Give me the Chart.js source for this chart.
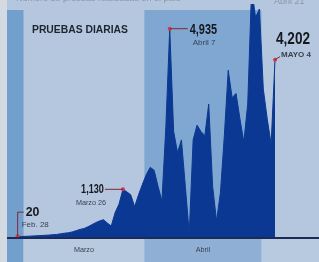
<!DOCTYPE html>
<html lang="es">
<head>
  <meta charset="UTF-8">
  <title>Pruebas diarias</title>
  <style>
    body { margin: 0; background: #b4c7de; }
    #grafica { display: block; }
  </style>
  <script src="https://cdn.jsdelivr.net/npm/chart.js"></script>
</head>
<body>

<canvas id="grafica" width="319" height="262"></canvas>

<script>
  // pruebas diarias, un valor por dia desde Feb. 28 (2020) hasta Mayo 4
  const pruebas = [
    20, 10, 15, 20, 25, 30, 35, 40, 45, 55,
    60, 75, 90, 100, 120, 150, 180, 200, 240, 290,
    340, 380, 410, 330, 260, 580, 780, 1130, 1070, 1000,
    720, 1000, 1250, 1480, 1650, 1580, 1200, 850, 2600, 4935,
    2500, 2000, 2300, 1200, 80, 2300, 2650, 2500, 2400, 3150,
    1200, 380, 1050, 2400, 3950, 3300, 3400, 2800, 2250, 3150,
    5900, 5200, 5400, 3500, 2800, 2200, 4202
  ];

  // meses del eje (indice del primer y ultimo dia)
  const meses = ['Marzo', 'Abril'];
  const mesInicio = [2, 33];
  const mesFin = [32, 62];

  // puntos destacados
  const destacadoIdx = [0, 27, 39, 66];
  const destacadoValor = ['20', '1,130', '4,935', '4,202'];
  const destacadoFecha = ['Feb. 28', 'Marzo 26', 'Abril 7', 'MAYO 4'];

  const titulo = 'PRUEBAS DIARIAS';
  const FUENTE = "'Liberation Sans', Arial, sans-serif";

  // texto comprimido a lo ancho (la fuente original es condensada)
  function texto(c, s, x, y, align, sx) {
    c.save();
    c.translate(x, y);
    c.scale(sx, 1);
    c.textAlign = align;
    c.fillText(s, 0, 0);
    c.restore();
  }

  const fondo = {
    id: 'fondo',
    beforeDraw(chart) {
      const c = chart.ctx, a = chart.chartArea, x = chart.scales.x;
      const W = chart.width, H = chart.height;
      const top = 10, base = a.bottom;
      c.save();
      c.fillStyle = '#b4c7de';
      c.fillRect(0, 0, W, H);
      // margen izquierdo
      c.fillStyle = '#d3dae2';
      c.fillRect(0, 0, 7, H);
      // franja de febrero
      const finFeb = x.getPixelForValue(mesInicio[0] - 0.5);
      c.fillStyle = '#739fcd';
      c.fillRect(7, top, finFeb - 7, H - top);
      // banda de abril
      const a0 = x.getPixelForValue(mesInicio[1] - 0.5);
      const a1 = x.getPixelForValue(mesFin[1] + 0.5);
      c.fillStyle = '#7fa7d1';
      c.fillRect(a0, top, a1 - a0, base - top);
      // franja del eje
      c.fillStyle = '#b8cadf';
      c.fillRect(finFeb, base + 2, W - finFeb, H - base - 2);
      c.fillStyle = '#8fb0d4';
      c.fillRect(a0, base + 2, a1 - a0, H - base - 2);
      // texto superior cortado
      c.fillStyle = '#8d96a3';
      c.font = '9px ' + FUENTE;
      c.textBaseline = 'alphabetic';
      c.fillText('Número de pruebas realizadas en el país', 16, 1);
      c.fillText('Abril 21', 274, 4);
      c.restore();
    },
    afterDatasetsDraw(chart) {
      const c = chart.ctx, a = chart.chartArea, x = chart.scales.x, y = chart.scales.y;
      const base = a.bottom;
      c.save();
      // linea base
      c.strokeStyle = '#1b2b55';
      c.lineWidth = 2;
      c.beginPath();
      c.moveTo(7, base + 1);
      c.lineTo(chart.width, base + 1);
      c.stroke();

      // meses
      c.fillStyle = '#3a4250';
      c.font = '8px ' + FUENTE;
      c.textBaseline = 'middle';
      meses.forEach((m, i) => {
        const cx = (x.getPixelForValue(mesInicio[i]) + x.getPixelForValue(mesFin[i])) / 2;
        texto(c, m, cx, base + 13, 'center', 0.9);
      });

      // titulo
      c.fillStyle = '#1e2530';
      c.font = 'bold 11px ' + FUENTE;
      texto(c, titulo, 32, 30, 'left', 0.94);

      // destacados
      const px = destacadoIdx.map(i => x.getPixelForValue(i));
      const py = destacadoIdx.map(i => y.getPixelForValue(pruebas[i]));
      c.strokeStyle = '#7a2a35';
      c.lineWidth = 1;
      c.beginPath();
      // Feb. 28
      c.moveTo(px[0], py[0]);
      c.lineTo(px[0], py[0] - 24);
      c.lineTo(px[0] + 6, py[0] - 24);
      // Marzo 26
      c.moveTo(px[1], py[1]);
      c.lineTo(px[1] - 18, py[1]);
      // Abril 7
      c.moveTo(px[2], py[2]);
      c.lineTo(px[2] + 18, py[2]);
      // Mayo 4
      c.moveTo(px[3], py[3]);
      c.lineTo(px[3] + 5, py[3] - 3);
      c.stroke();

      c.fillStyle = '#15181e';
      c.font = 'bold 13px ' + FUENTE;
      texto(c, destacadoValor[0], px[0] + 8, py[0] - 24, 'left', 0.95);
      c.font = 'bold 12px ' + FUENTE;
      texto(c, destacadoValor[1], px[1] - 19, py[1], 'right', 0.76);
      c.font = 'bold 14px ' + FUENTE;
      texto(c, destacadoValor[2], px[2] + 20, py[2] + 1, 'left', 0.78);
      c.font = 'bold 17px ' + FUENTE;
      texto(c, destacadoValor[3], px[3] + 1, py[3] - 20, 'left', 0.8);

      c.fillStyle = '#3a4250';
      c.font = '8px ' + FUENTE;
      texto(c, destacadoFecha[0], px[0] + 4, py[0] - 11, 'left', 1);
      texto(c, destacadoFecha[1], px[1] - 17, py[1] + 13, 'right', 0.9);
      c.font = '8px ' + FUENTE;
      texto(c, destacadoFecha[2], px[2] + 23, py[2] + 14, 'left', 1);
      c.font = 'bold 8px ' + FUENTE;
      texto(c, destacadoFecha[3], px[3] + 6, py[3] - 5, 'left', 1);
      c.restore();
    }
  };

  new Chart(document.getElementById('grafica'), {
    type: 'line',
    data: {
      datasets: [
        {
          data: destacadoIdx.map(i => ({ x: i, y: pruebas[i] })),
          showLine: false,
          pointRadius: 2,
          pointBackgroundColor: '#d8344a',
          pointBorderWidth: 0,
          clip: false,
          order: 0
        },
        {
          data: pruebas.map((v, i) => ({ x: i, y: v })),
          borderColor: '#0a3892',
          borderWidth: 1,
          backgroundColor: '#0a3892',
          fill: 'origin',
          tension: 0,
          pointRadius: 0,
          order: 1
        }
      ]
    },
    options: {
      responsive: false,
      animation: false,
      layout: { padding: { top: 0, right: 0, bottom: 25, left: 0 } },
      scales: {
        x: { type: 'linear', min: -3.5, max: 76.25, display: false },
        y: { min: 0, max: 5520, display: false }
      },
      plugins: {
        legend: { display: false },
        tooltip: { enabled: false }
      }
    },
    plugins: [fondo]
  });
</script>

</body>
</html>
